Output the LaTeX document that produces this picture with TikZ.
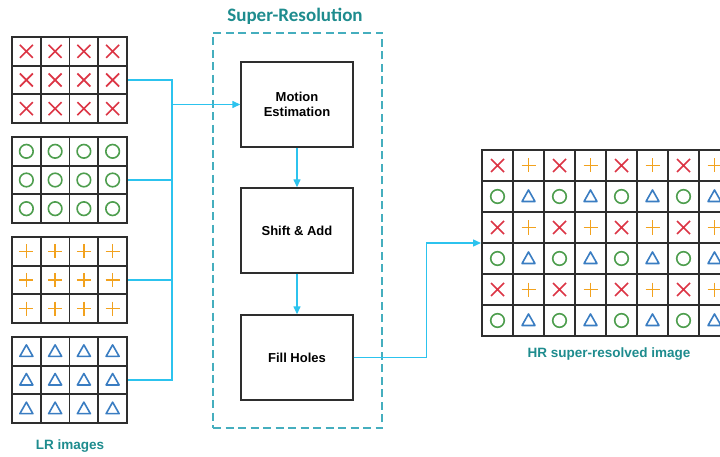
\documentclass[tikz,border=0pt]{standalone}
\usepackage{fontspec}
\setmainfont{Liberation Sans}
\newfontfamily\titlefont{Carlito}
\usetikzlibrary{arrows.meta}

\definecolor{flow}{HTML}{2CC3EE}
\definecolor{labelteal}{HTML}{1E8C8E}
\definecolor{frameteal}{HTML}{45AEBE}
\definecolor{symred}{HTML}{DC3545}
\definecolor{symgreen}{HTML}{4E9E4E}
\definecolor{symorange}{HTML}{F2A21E}
\definecolor{symblue}{HTML}{3A7DC2}
\definecolor{gridgray}{HTML}{2E2E2E}

\tikzset{
  procbox/.style={draw=gridgray, line width=1.4pt, fill=white,
    minimum width=112pt, minimum height=85pt, align=center,
    font=\bfseries\fontsize{13}{15.5}\selectfont},
  flowline/.style={draw=flow, line width=1.4pt},
  flowarrow/.style={flowline, -{Triangle[length=8pt,width=7pt]}},
  gridframe/.style={draw=gridgray, line width=2pt, fill=white, inner sep=0pt},
  gridline/.style={draw=gridgray, line width=1.8pt},
  caption/.style={text=labelteal, font=\bfseries\fontsize{13.5}{16}\selectfont},
  symx/.pic={\draw[symred, line width=1.6pt] (-6.5,-6.5) -- (6.5,6.5) (-6.5,6.5) -- (6.5,-6.5);},
  symo/.pic={\draw[symgreen, line width=1.6pt] (0,0) circle (6.8pt);},
  symp/.pic={\draw[symorange, line width=1.6pt] (-7,0) -- (7,0) (0,-7) -- (0,7);},
  symt/.pic={\draw[symblue, line width=1.6pt, line join=round] (0,-6.5) -- (-6.5,5) -- (6.5,5) -- cycle;},
}

% one low-resolution image: name, top edge, symbol
\newcommand\lrgrid[3]{%
  \node[gridframe, minimum width=115pt, minimum height=86pt] (#1) at (69.5,{#2+43}) {};
  \foreach \i in {0,...,3}{\foreach \j in {0,1,2}{%
    \pic at ({12+28.75*(\i+0.5)},{#2+28.667*(\j+0.5)}) {#3};}}
  \foreach \i in {1,2,3}{\draw[gridline] ({12+28.75*\i},#2) -- ++(0,86);}
  \foreach \j in {1,2}{\draw[gridline] (12,{#2+28.667*\j}) -- ++(115,0);}
  \draw[gridframe, fill=none] (12,#2) rectangle ++(115,86);
}

\begin{document}
\begin{tikzpicture}[x=1pt,y=-1pt]
\useasboundingbox (0,0) rectangle (720,457);
\clip (0,0) rectangle (720,457);
\fill[white] (0,0) rectangle (720,457);

% low-resolution inputs
\lrgrid{lr1}{37}{symx}
\lrgrid{lr2}{137}{symo}
\lrgrid{lr3}{237}{symp}
\lrgrid{lr4}{337}{symt}
\node[caption] (lrlabel) at (70,446) {LR images};

% super-resolution stage
\node[draw=frameteal, line width=1.4pt, dash pattern=on 8pt off 4.5pt,
      minimum width=169pt, minimum height=395pt] (sr) at (297.5,230.5) {};
\node[text=labelteal, font=\titlefont\bfseries\fontsize{19}{22}\selectfont] (title) at (295,16) {Super-Resolution};

\node[procbox] (me) at (297,104.5) {Motion\\Estimation};
\node[procbox] (sa) at (297,230.5) {Shift \& Add};
\node[procbox] (fh) at (297,357.5) {Fill Holes};

% high-resolution output
\node[gridframe, minimum width=248pt, minimum height=186pt] (hr) at (606,243) {};
\foreach \j in {0,2,4}{
  \foreach \i in {0,2,4,6}{\pic at ({482+31*(\i+0.5)},{150+31*(\j+0.5)}) {symx};}
  \foreach \i in {1,3,5,7}{\pic at ({482+31*(\i+0.5)},{150+31*(\j+0.5)}) {symp};}
}
\foreach \j in {1,3,5}{
  \foreach \i in {0,2,4,6}{\pic at ({482+31*(\i+0.5)},{150+31*(\j+0.5)}) {symo};}
  \foreach \i in {1,3,5,7}{\pic at ({482+31*(\i+0.5)},{150+31*(\j+0.5)}) {symt};}
}
\foreach \i in {1,...,7}{\draw[gridline] ({482+31*\i},150) -- ++(0,186);}
\foreach \j in {1,...,5}{\draw[gridline] (482,{150+31*\j}) -- ++(248,0);}
\draw[gridframe, fill=none] (482,150) rectangle ++(248,186);
\node[caption] (hrlabel) at (609,354) {HR super-resolved image};

% connectors
\coordinate (jin) at (172,104.5);
\draw[flowline] (lr1.east) -| (jin);
\draw[flowline] (lr4.east) -| (jin);
\draw[flowline] (lr2.east) -- (lr2.east -| jin);
\draw[flowline] (lr3.east) -- (lr3.east -| jin);
\draw[flowarrow] (jin) -- (me.west);
\draw[flowarrow] (me.south) -- (sa.north);
\draw[flowarrow] (sa.south) -- (fh.north);
\draw[flowarrow] (fh.east) -- ++(73,0) |- (hr.west);
\end{tikzpicture}
\end{document}
